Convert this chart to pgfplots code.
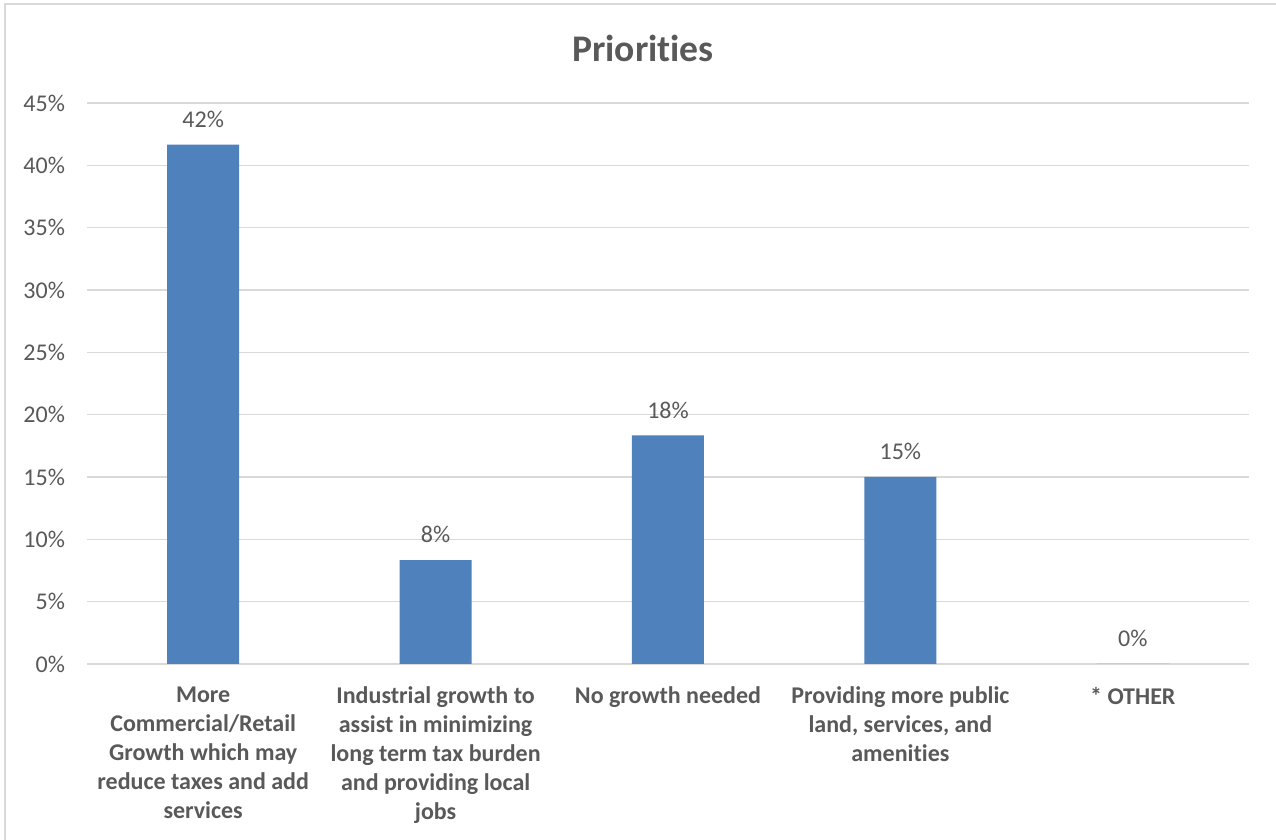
\documentclass[border=0pt]{standalone}
\usepackage{pgfplots}
\pgfplotsset{compat=1.18}
\usepackage{fontspec}
\setmainfont[Ligatures=NoCommon]{Carlito}
\definecolor{barblue}{HTML}{4F81BD}
\definecolor{txtgray}{HTML}{595959}
\definecolor{gridgray}{HTML}{D9D9D9}
\begin{document}
\begin{tikzpicture}
\path[use as bounding box, fill=white] (0,0) rectangle (638pt,420pt);
\draw[gridgray, line width=1pt] (2.5pt,0) -- (2.5pt,418pt) -- (638pt,418pt);
\node[font=\fontsize{18.8}{22}\selectfont\bfseries, text=txtgray] at (321.5pt,396pt) {Priorities};
\begin{axis}[
  at={(43.5pt,88pt)}, anchor=south west,
  scale only axis, width=581pt, height=280.5pt,
  ymin=0, ymax=45, xmin=-0.5, xmax=4.5,
  ybar, bar width=36pt,
  ytick={0,5,...,45},
  yticklabel={\pgfmathprintnumber{\tick}\%},
  /pgf/number format/assume math mode=true,
  xtick={0,1,2,3,4},
  xticklabels={{More\\Commercial/Retail\\Growth which may\\reduce taxes and add\\services},
    {Industrial growth to\\assist in minimizing\\long term tax burden\\and providing local\\jobs},
    {No growth needed},
    {Providing more public\\land, services, and\\amenities},
    {* OTHER}},
  xticklabel style={align=center, font=\fontsize{12}{14.5}\selectfont\bfseries, text=txtgray, anchor=north, yshift=-8pt},
  yticklabel style={font=\fontsize{12}{14}\selectfont, text=txtgray, xshift=-7.5pt},
  major tick length=0pt,
  ymajorgrids, grid style={gridgray, line width=0.75pt},
  axis line style={draw=none},
  axis x line*=bottom,
  x axis line style={draw=gridgray, line width=0.75pt},
  axis y line*=left, y axis line style={draw=none},
  nodes near coords={\pgfmathprintnumber[fixed,precision=0]{\pgfplotspointmeta}\%},
  nodes near coords style={font=\fontsize{12}{14}\selectfont, text=txtgray, yshift=5pt},
  clip=false,
]
\addplot[fill=barblue, draw=none] coordinates {(0,41.67) (1,8.33) (2,18.33) (3,15.0) (4,0)};
\end{axis}
\end{tikzpicture}
\end{document}
